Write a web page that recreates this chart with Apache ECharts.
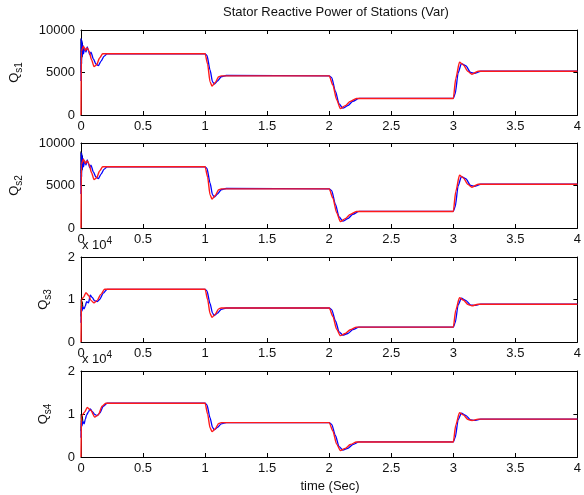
<!DOCTYPE html>
<html><head><meta charset="utf-8">
<script src="https://cdn.jsdelivr.net/npm/echarts@6/dist/echarts.min.js"></script>
<style>html,body{margin:0;padding:0;background:#fff}#c{width:584px;height:495px}</style>
</head><body><div id="c"></div>
<script>
// ---- data ----
const xTicks = [0, 0.5, 1, 1.5, 2, 2.5, 3, 3.5, 4];
const yLabels12 = [0, 5000, 10000];
const yLabels34 = [0, 1, 2];

// plots 1 & 2
const tRed12 = [0, 0.003, 0.02, 0.035, 0.05, 0.065, 0.085, 0.105, 0.125, 0.15, 0.175, 1.0, 1.02, 1.04, 1.056, 1.08, 1.11, 1.13, 2.0, 2.03, 2.06, 2.09, 2.13, 2.17, 2.22, 3.0, 3.02, 3.05, 3.08, 3.12, 3.15, 3.2, 4.0];
const qs1Red = [0, 7500, 8100, 7600, 7900, 7500, 6500, 5700, 5900, 6700, 7200, 7200, 6000, 3900, 3400, 3800, 4500, 4600, 4600, 3500, 1800, 750, 1100, 1600, 1950, 1950, 4300, 6200, 5900, 5100, 4800, 5150, 5150];
const qs2Red = [0, 7500, 8100, 7600, 7900, 7500, 6500, 5700, 5900, 6700, 7200, 7200, 6000, 3900, 3400, 3800, 4500, 4600, 4600, 3500, 1800, 750, 1100, 1600, 1950, 1950, 4300, 6200, 5900, 5100, 4800, 5150, 5150];
const tBlue12 = [0, 0.002, 0.005, 0.008, 0.012, 0.016, 0.02, 0.03, 0.04, 0.05, 0.06, 0.07, 0.08, 0.1, 0.12, 0.14, 0.16, 0.185, 0.21, 1.0, 1.015, 1.04, 1.06, 1.074, 1.1, 1.13, 1.17, 2.0, 2.02, 2.05, 2.08, 2.11, 2.15, 2.19, 2.24, 3.0, 3.015, 3.04, 3.065, 3.1, 3.14, 3.17, 3.22, 4.0];
const qs1Blue = [4000, 9000, 6000, 8700, 7000, 8200, 7200, 7900, 7400, 8000, 7600, 7100, 7400, 6600, 6000, 5800, 6300, 6900, 7200, 7200, 7000, 5300, 3900, 3650, 4000, 4500, 4650, 4600, 4400, 2800, 1300, 800, 1100, 1600, 1950, 1950, 2500, 5000, 6050, 5800, 5000, 4900, 5150, 5150];
const qs2Blue = [4000, 8900, 6000, 8600, 7000, 8200, 7200, 7900, 7400, 8000, 7600, 7100, 7400, 6600, 6000, 5800, 6300, 6900, 7200, 7200, 7000, 5300, 3900, 3650, 4000, 4500, 4650, 4600, 4400, 2800, 1300, 800, 1100, 1600, 1950, 1950, 2500, 5000, 6050, 5800, 5000, 4900, 5150, 5150];
const tBlack12 = [0, 0.001, 0.003, 0.005, 0.008, 0.011, 0.015, 0.02];
const qs1Black = [5000, 9000, 6500, 8800, 6800, 8500, 7200, 7800];
const qs2Black = [5000, 9000, 6500, 8800, 6800, 8500, 7200, 7800];

// plot 3
const tRed3 = [0, 0.004, 0.02, 0.04, 0.06, 0.08, 0.105, 0.13, 0.16, 0.19, 1.0, 1.02, 1.04, 1.056, 1.08, 1.11, 1.13, 2.0, 2.03, 2.06, 2.09, 2.13, 2.17, 2.22, 3.0, 3.02, 3.05, 3.08, 3.12, 3.15, 3.2, 4.0];
const qs3Red = [0, 10000, 10500, 11600, 11000, 9800, 9200, 9800, 11200, 12400, 12400, 10000, 6700, 5800, 6500, 7800, 8000, 8000, 6000, 3000, 1500, 2000, 2900, 3500, 3500, 7500, 10400, 9900, 8800, 8500, 8900, 8900];
const tBlue34 = [0, 0.003, 0.008, 0.015, 0.025, 0.035, 0.045, 0.06, 0.075, 0.09, 0.11, 0.13, 0.15, 0.18, 0.21, 1.0, 1.015, 1.04, 1.06, 1.074, 1.1, 1.13, 1.17, 2.0, 2.02, 2.05, 2.08, 2.11, 2.15, 2.19, 2.24, 3.0, 3.015, 3.04, 3.065, 3.1, 3.14, 3.17, 3.22, 4.0];
const qs3Blue = [4500, 8500, 7300, 8200, 7800, 8500, 9500, 9200, 11000, 10500, 9700, 9500, 10000, 11500, 12400, 12400, 12000, 9000, 6800, 6200, 6800, 7700, 8000, 8000, 7600, 5000, 2400, 1600, 2000, 2900, 3500, 3500, 4500, 8800, 10300, 9800, 8700, 8600, 8900, 8900];
const tBlack34 = [0, 0.002, 0.005, 0.01, 0.015];
const qs3Black = [6000, 10000, 8000, 9500, 8200];

// plot 4
const tRed4 = [0, 0.004, 0.03, 0.05, 0.08, 0.11, 0.14, 0.17, 0.2, 1.0, 1.02, 1.04, 1.056, 1.08, 1.11, 1.13, 2.0, 2.03, 2.06, 2.09, 2.13, 2.17, 2.22, 3.0, 3.02, 3.05, 3.08, 3.12, 3.15, 3.2, 4.0];
const qs4Red = [0, 9500, 10500, 11500, 10800, 9300, 9800, 11800, 12500, 12500, 10000, 6800, 5900, 6500, 7800, 8000, 8000, 6000, 3000, 1500, 2000, 2900, 3500, 3500, 7400, 10300, 9800, 8700, 8500, 8800, 8800];
const qs4Blue = [4500, 8500, 7200, 8300, 7700, 8800, 9800, 10500, 11200, 10600, 9900, 9600, 10200, 11800, 12500, 12500, 12100, 9100, 6900, 6300, 6900, 7700, 8000, 8000, 7600, 5000, 2400, 1600, 2000, 2900, 3500, 3500, 4500, 8700, 10200, 9700, 8600, 8500, 8800, 8800];
const qs4Black = [6000, 10000, 8000, 9500, 8200];

const titleText = 'Stator Reactive Power of Stations (Var)';
const xName = 'time (Sec)';
const yNames = ['s1', 's2', 's3', 's4'];

// ---- chart ----
const FONT = "'Liberation Sans', Arial, sans-serif";
const zip = (t, v) => t.map((x, i) => [x, v[i]]);
const panels = [
  {top: 30, h: 85, max: 10000, step: 5000, scale: 1, k: [tBlack12, qs1Black], b: [tBlue12, qs1Blue], r: [tRed12, qs1Red]},
  {top: 143, h: 85, max: 10000, step: 5000, scale: 1, k: [tBlack12, qs2Black], b: [tBlue12, qs2Blue], r: [tRed12, qs2Red]},
  {top: 257, h: 85, max: 20000, step: 10000, scale: 10000, k: [tBlack34, qs3Black], b: [tBlue34, qs3Blue], r: [tRed3, qs3Red]},
  {top: 371, h: 86, max: 20000, step: 10000, scale: 10000, k: [tBlack34, qs4Black], b: [tBlue34, qs4Blue], r: [tRed4, qs4Red]}
];
const grid = [], xAxis = [], yAxis = [], series = [], graphic = [];
const lineStyle = {color: '#000', width: 1};
panels.forEach((p, i) => {
  grid.push({left: 81, right: 4, top: p.top, height: p.h});
  const base = {type: 'value', gridIndex: i, min: 0, max: 4, interval: 0.5,
    axisLine: {show: true, onZero: false, lineStyle},
    axisTick: {show: true, inside: true, length: 4, lineStyle},
    splitLine: {show: false}};
  xAxis.push(Object.assign({}, base, {position: 'bottom',
    axisLabel: {show: true, color: '#111', fontSize: 13, fontFamily: FONT, margin: 5, showMinLabel: true, showMaxLabel: true,
      formatter: v => String(v)}}));
  xAxis.push(Object.assign({}, base, {position: 'top', axisLabel: {show: false}}));
  const ybase = {type: 'value', gridIndex: i, min: 0, max: p.max, interval: p.step,
    axisLine: {show: true, onZero: false, lineStyle},
    axisTick: {show: true, inside: true, length: 4, lineStyle},
    splitLine: {show: false}};
  yAxis.push(Object.assign({}, ybase, {position: 'left',
    axisLabel: {show: true, color: '#111', fontSize: 13, fontFamily: FONT, margin: 6, showMinLabel: true, showMaxLabel: true,
      formatter: v => String(v / p.scale)}}));
  yAxis.push(Object.assign({}, ybase, {position: 'right', axisLabel: {show: false}}));
  const xi = i * 2, yi = i * 2;
  const mk = (d, color, w) => ({type: 'line', xAxisIndex: xi, yAxisIndex: yi, data: zip(d[0], d[1]),
    showSymbol: false, symbol: 'none', smooth: 0.25, smoothMonotone: 'x', animation: false, silent: true,
    lineStyle: {color, width: w}});
  series.push(mk(p.k, '#000000', 1));
  series.push(mk(p.b, '#0000ff', 1.3));
  series.push(mk(p.r, '#ff1a1a', 1.4));
  // y label
  const lx = p.scale === 1 ? 16 : 45;
  graphic.push({type: 'text', x: lx, y: p.top + p.h / 2, rotation: Math.PI / 2,
    style: {text: '{q|Q}{s|' + yNames[i] + '}', align: 'center', verticalAlign: 'middle', fill: '#000',
      rich: {q: {fontSize: 13, fontFamily: FONT, lineHeight: 16, verticalAlign: 'top', fill: '#111'},
             s: {fontSize: 10, fontFamily: FONT, lineHeight: 10, verticalAlign: 'bottom', fill: '#111'}}}});
  if (p.scale !== 1) {
    graphic.push({type: 'text', x: 82, y: p.top - 13,
      style: {text: '{a|x 10}{e|4}', align: 'left', verticalAlign: 'middle', fill: '#000',
        rich: {a: {fontSize: 13, fontFamily: FONT, lineHeight: 16, verticalAlign: 'bottom', fill: '#111'},
               e: {fontSize: 10, fontFamily: FONT, lineHeight: 10, verticalAlign: 'top', fill: '#111'}}}});
  }
});
graphic.push({type: 'text', x: 336, y: 12, style: {text: titleText, align: 'center', verticalAlign: 'middle',
  fontSize: 13, fontFamily: FONT, fill: '#111'}});
graphic.push({type: 'text', x: 330, y: 486, style: {text: xName, align: 'center', verticalAlign: 'middle',
  fontSize: 13, fontFamily: FONT, fill: '#111'}});

const chart = echarts.init(document.getElementById('c'), null, {renderer: 'canvas'});
chart.setOption({animation: false, backgroundColor: '#fff', grid, xAxis, yAxis, series, graphic});
</script></body></html>
